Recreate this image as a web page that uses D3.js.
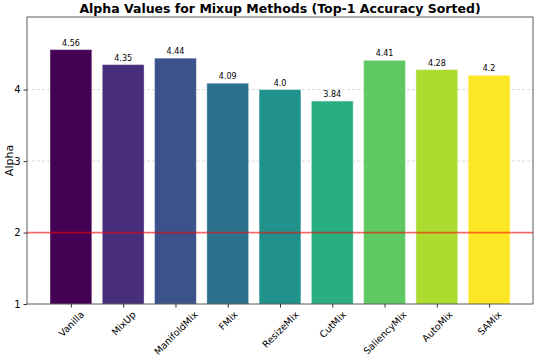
<!DOCTYPE html>
<html>
<head>
<meta charset="utf-8">
<script src="https://cdn.jsdelivr.net/npm/d3@7"></script>
<style>
  body { margin: 0; background: #fff; }
  text { font-family: "DejaVu Sans", sans-serif; }
</style>
</head>
<body>
<div id="chart"></div>
<script>
const methods = ["Vanilla", "MixUp", "ManifoldMix", "FMix", "ResizeMix", "CutMix", "SaliencyMix", "AutoMix", "SAMix"];
const alphas = [4.56, 4.35, 4.44, 4.09, 4.0, 3.84, 4.41, 4.28, 4.2];
const valueLabels = ["4.56", "4.35", "4.44", "4.09", "4.0", "3.84", "4.41", "4.28", "4.2"];
const yTicks = [1, 2, 3, 4];
const threshold = 2;

const width = 538, height = 357;
const margin = { top: 17, right: 5, bottom: 53, left: 27 };
const w = width - margin.left - margin.right;
const h = height - margin.top - margin.bottom;

const svg = d3.select("#chart").append("svg")
  .attr("width", width)
  .attr("height", height);

const g = svg.append("g")
  .attr("transform", "translate(" + margin.left + "," + margin.top + ")");

// matplotlib-like linear x for bar positions
const x = d3.scaleLinear().domain([-0.84, methods.length - 1 + 0.84]).range([0, w]);
const barW = x(0.4) - x(-0.4);
const y = d3.scaleLinear().domain([1, d3.max(alphas) * 1.1]).range([h, 0]);

const color = (i) => d3.interpolateViridis(i / (methods.length - 1));

// grid (below bars)
g.selectAll(".grid").data(yTicks.filter(d => d > 1)).enter().append("line")
  .attr("x1", 0).attr("x2", w)
  .attr("y1", d => y(d)).attr("y2", d => y(d))
  .attr("stroke", "#b0b0b0")
  .attr("stroke-width", 0.8)
  .attr("stroke-dasharray", "3,2")
  .style("opacity", 0.6);

// bars
g.selectAll(".bar").data(alphas).enter().append("rect")
  .attr("x", (d, i) => x(i) - barW / 2)
  .attr("y", d => y(d))
  .attr("width", barW)
  .attr("height", d => h - y(d))
  .attr("fill", (d, i) => color(i))
  .attr("stroke", "#fff")
  .attr("stroke-opacity", 0.4)
  .attr("stroke-width", 1);

// value labels
g.selectAll(".val").data(alphas).enter().append("text")
  .attr("x", (d, i) => x(i))
  .attr("y", d => y(d) - 4)
  .attr("text-anchor", "middle")
  .style("font-size", "8px")
  .text((d, i) => valueLabels[i]);

// threshold line
g.append("line")
  .attr("x1", 0).attr("x2", w)
  .attr("y1", y(threshold)).attr("y2", y(threshold))
  .attr("stroke", "red")
  .attr("stroke-width", 1.8)
  .style("opacity", 0.55);

// frame
g.append("rect")
  .attr("width", w).attr("height", h)
  .attr("fill", "none")
  .attr("stroke", "#333")
  .attr("stroke-width", 0.8);

// y axis
const yAxis = g.append("g")
  .call(d3.axisLeft(y).tickValues(yTicks).tickSize(3.5).tickFormat(d3.format("d")));
yAxis.select(".domain").remove();
yAxis.selectAll("text").style("font-size", "10px").style("font-family", "DejaVu Sans").attr("fill", "#000");
yAxis.selectAll("line").attr("stroke", "#333");

// x axis, rotated labels centred under ticks (like ha="center")
const xAxis = g.append("g")
  .attr("transform", "translate(0," + h + ")")
  .call(d3.axisBottom(x).tickValues(d3.range(methods.length)).tickSize(3.5).tickFormat(i => methods[i]));
xAxis.select(".domain").remove();
xAxis.selectAll("line").attr("stroke", "#333");
xAxis.selectAll("text")
  .style("font-size", "9.5px")
  .style("font-family", "DejaVu Sans")
  .attr("fill", "#000")
  .attr("text-anchor", "middle")
  .attr("dy", "0.35em")
  .attr("y", 0)
  .attr("transform", function () {
    const len = this.getComputedTextLength();
    const half = (len + 11) * Math.SQRT1_2 / 2;
    return "translate(0," + (5 + half) + ") rotate(-45)";
  });

// y label
svg.append("text")
  .attr("transform", "translate(13," + (margin.top + h / 2) + ") rotate(-90)")
  .attr("text-anchor", "middle")
  .style("font-size", "11px")
  .text("Alpha");

// title
svg.append("text")
  .attr("x", margin.left + w / 2)
  .attr("y", 13)
  .attr("text-anchor", "middle")
  .style("font-size", "12.5px")
  .style("font-weight", "bold")
  .text("Alpha Values for Mixup Methods (Top-1 Accuracy Sorted)");
</script>
</body>
</html>
